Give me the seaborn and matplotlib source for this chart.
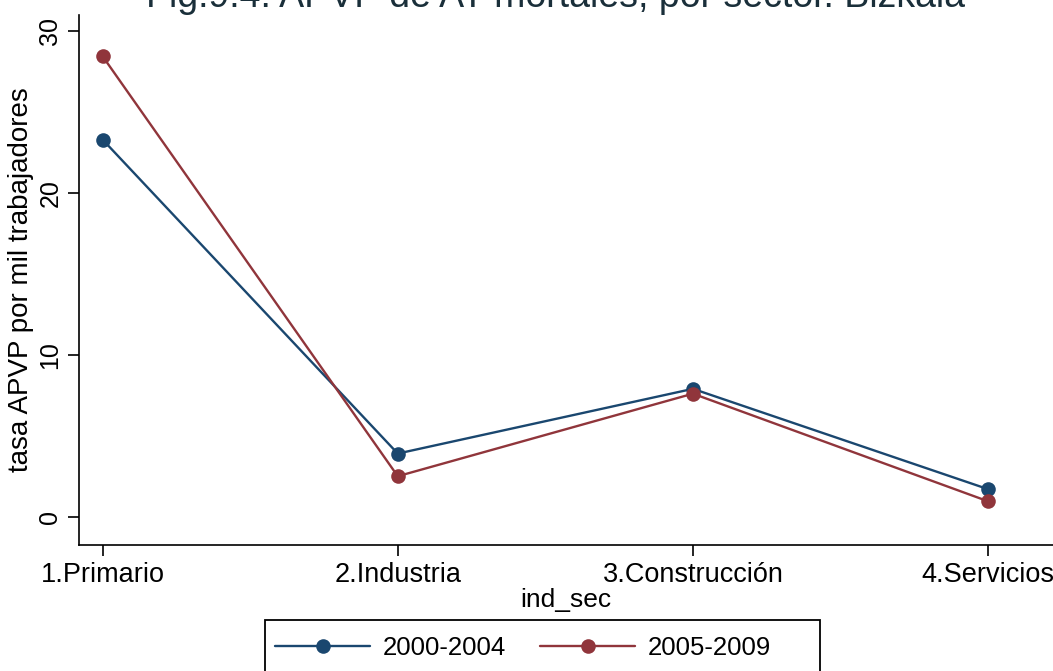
import matplotlib
matplotlib.use("Agg")
import matplotlib.pyplot as plt
from matplotlib.patches import Rectangle
import seaborn as sns
import pandas as pd

sectors = ["1.Primario", "2.Industria", "3.Construcción", "4.Servicios"]
periods = ["2000-2004", "2005-2009"]
rate_2000_2004 = [23.3, 3.9, 7.9, 1.7]
rate_2005_2009 = [28.45, 2.5, 7.6, 0.95]
y_ticks = [0, 10, 20, 30]

df = pd.DataFrame({
    "ind_sec": sectors * 2,
    "tasa": rate_2000_2004 + rate_2005_2009,
    "periodo": [periods[0]] * 4 + [periods[1]] * 4,
})

sns.set_theme(style="ticks")
plt.rcParams["font.family"] = ["Liberation Sans", "DejaVu Sans"]
plt.rcParams["text.color"] = "black"

W, H = 1053, 671
fig = plt.figure(figsize=(W / 100, H / 100), dpi=100)
ax = fig.add_axes([79 / W, 1 - 545 / H, (W - 79) / W, (545 - 15) / H])

palette = {"2000-2004": "#1a476f", "2005-2009": "#90353b"}
sns.lineplot(data=df, x="ind_sec", y="tasa", hue="periodo", hue_order=periods,
             palette=palette, marker="o", markersize=10.5, markeredgewidth=0,
             linewidth=1.7, ax=ax, sort=False, legend=True)

ax.set_xlim(-0.08, 3.22)
ax.set_ylim(-1.75, 31)
ax.set_yticks(y_ticks)
ax.set_yticklabels([str(t) for t in y_ticks], rotation=90, va="center", fontsize=18)
ax.tick_params(axis="x", labelsize=19.5, length=8, width=1.2, colors="black", pad=4)
ax.tick_params(axis="y", length=8, width=1.2, colors="black", pad=4)
ax.set_xlabel("ind_sec", fontsize=19, labelpad=0, color="black")
ax.set_ylabel("tasa APVP por mil trabajadores", fontsize=20, labelpad=3, color="black")
for side in ["top", "right"]:
    ax.spines[side].set_visible(False)
for side in ["left", "bottom"]:
    ax.spines[side].set_color("black")
    ax.spines[side].set_linewidth(1.2)

# Legend entries without their own frame; the box is drawn separately
handles, labels = ax.get_legend_handles_labels()
ax.get_legend().remove()
fig.legend(handles, labels, loc="center left", bbox_to_anchor=(275 / W, 1 - 648 / H),
           ncol=2, fontsize=18.5, frameon=False, handlelength=3.7, handletextpad=0.5,
           columnspacing=1.32, borderpad=0, borderaxespad=0, labelcolor="black")
fig.patches.append(Rectangle((265 / W, 1 - 690 / H), (820 - 265) / W, 70 / H,
                             transform=fig.transFigure, fill=False,
                             edgecolor="black", linewidth=1.3))

fig.text(555 / W, 1 - 7 / H, "Fig.9.4: APVP de AT mortales, por sector. Bizkaia",
         ha="center", va="baseline", fontsize=27, color="#1a2f3a")

fig.savefig("out.png", dpi=100, facecolor="white")
